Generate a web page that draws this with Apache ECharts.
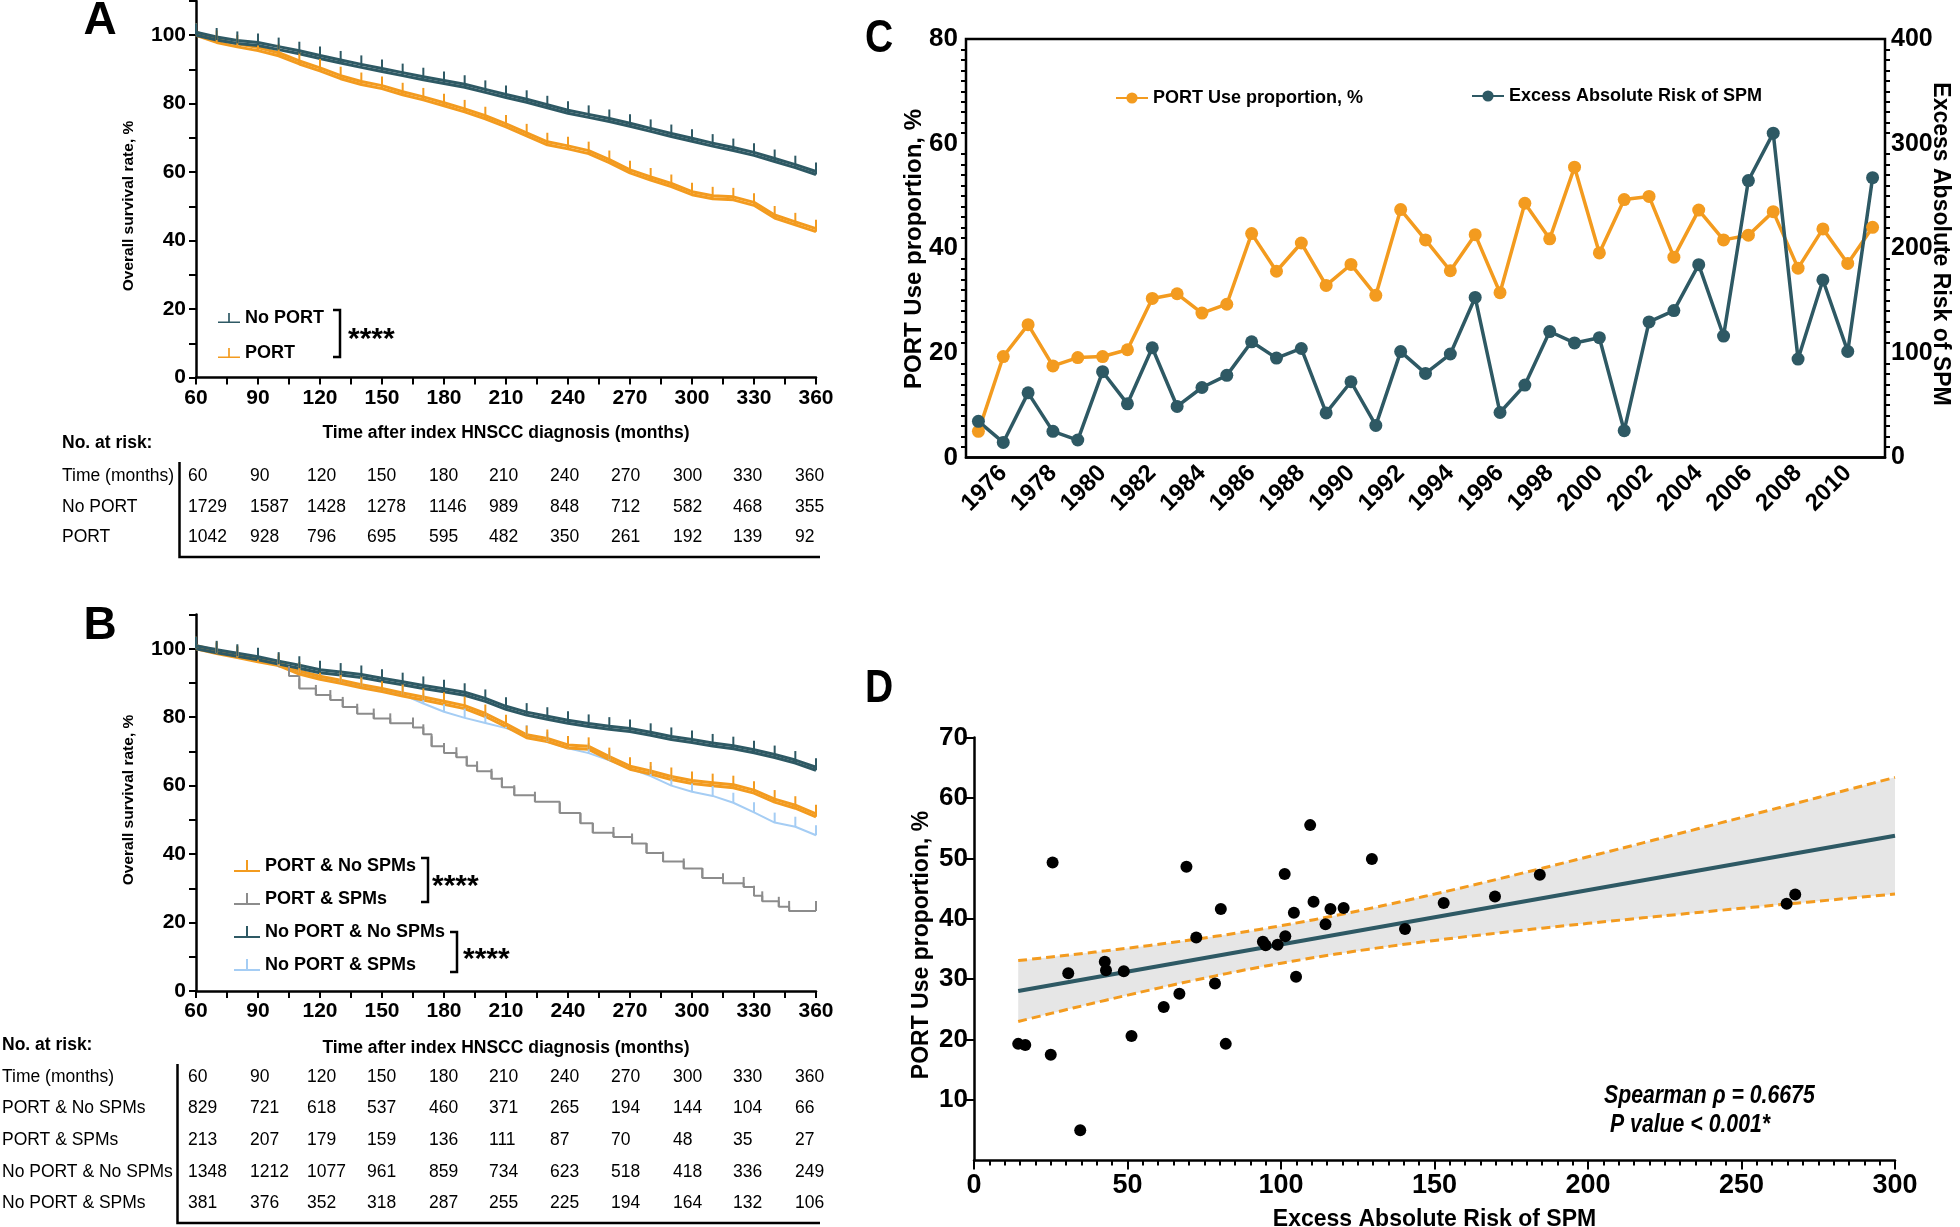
<!DOCTYPE html>
<html>
<head>
<meta charset="utf-8">
<script src="https://cdn.jsdelivr.net/npm/echarts@6/dist/echarts.min.js"></script>
<style>
html, body { margin: 0; padding: 0; background: #fff; }
#main { width: 1960px; height: 1227px; }
</style>
</head>
<body>
<div id="main"></div>
<script>
// ---- KM curves (survival %) ----
var months = [60, 70, 80, 90, 100, 110, 120, 130, 140, 150, 160, 170, 180, 190, 200, 210,
  220, 230, 240, 250, 260, 270, 280, 290, 300, 310, 320, 330, 340, 350, 360];
var aNoPort = [100, 98.6, 97.6, 97.0, 95.8, 94.6, 93.2, 91.9, 90.6, 89.4, 88.2, 87.0, 85.9, 84.8, 83.3, 81.8,
  80.4, 78.8, 77.2, 76.0, 74.8, 73.4, 71.9, 70.4, 69.0, 67.6, 66.3, 64.9, 63.1, 61.3, 59.3];
var aPort = [100, 97.9, 96.6, 95.5, 94.0, 91.6, 89.6, 87.3, 85.6, 84.4, 82.6, 81.1, 79.4, 77.6, 75.6, 73.2,
  70.6, 68.0, 66.8, 65.4, 62.8, 59.8, 57.7, 55.8, 53.4, 52.2, 51.9, 50.3, 46.6, 44.6, 42.6];
var bNoPortNoSpm = [100, 98.8, 97.8, 96.8, 95.5, 94.3, 93.0, 92.3, 91.6, 90.5, 89.5, 88.4, 87.4, 86.4, 84.6, 82.3,
  80.6, 79.4, 78.2, 77.3, 76.5, 75.8, 74.7, 73.5, 72.6, 71.6, 70.8, 69.6, 68.2, 66.6, 64.5];
var bPortNoSpm = [100, 98.6, 97.4, 96.2, 95.1, 92.6, 91.1, 89.9, 88.6, 87.5, 86.2, 85.0, 83.8, 82.5, 80.2, 77.2,
  74.0, 72.9, 71.0, 70.6, 67.6, 64.8, 63.4, 61.8, 60.6, 60.0, 59.4, 57.8, 55.2, 53.4, 50.9];
var bNoPortSpm = [100, 98.8, 97.8, 97.2, 95.0, 93.0, 91.6, 90.2, 89.1, 88.0, 86.6, 84.0, 81.6, 79.8, 78.3, 76.8,
  74.8, 72.8, 70.9, 69.5, 67.4, 65.0, 62.8, 60.0, 58.2, 57.0, 55.0, 52.2, 49.2, 48.0, 45.5];
// PORT & SPMs: step curve, times of the drops and the value after each drop
var bPortSpmT = [60, 70, 80, 90, 100, 105, 110, 118, 125, 131, 138, 146, 154, 165, 170, 174, 180, 186, 191, 196,
  203, 208, 214, 224, 236, 246, 252, 262, 271, 278, 286, 296, 305, 315, 325, 330, 334, 342, 347, 360];
var bPortSpmS = [100, 98.8, 97.6, 96.5, 94.8, 92.0, 88.4, 86.5, 85.0, 83.0, 81.0, 79.6, 78.2, 77.0, 75.0, 71.5, 69.5, 68.3, 65.8, 64.2,
  62.0, 59.5, 57.2, 55.3, 52.0, 49.0, 46.2, 45.0, 43.1, 40.3, 37.8, 35.8, 33.0, 31.5, 30.4, 27.8, 26.2, 24.6, 23.4, 23.4];

// ---- numbers at risk ----
var riskTimes = [60, 90, 120, 150, 180, 210, 240, 270, 300, 330, 360];
var riskANoPort = [1729, 1587, 1428, 1278, 1146, 989, 848, 712, 582, 468, 355];
var riskAPort = [1042, 928, 796, 695, 595, 482, 350, 261, 192, 139, 92];
var riskBPortNoSpm = [829, 721, 618, 537, 460, 371, 265, 194, 144, 104, 66];
var riskBPortSpm = [213, 207, 179, 159, 136, 111, 87, 70, 48, 35, 27];
var riskBNoPortNoSpm = [1348, 1212, 1077, 961, 859, 734, 623, 518, 418, 336, 249];
var riskBNoPortSpm = [381, 376, 352, 318, 287, 255, 225, 194, 164, 132, 106];

// ---- panel C / D ----
var years = [1975, 1976, 1977, 1978, 1979, 1980, 1981, 1982, 1983, 1984, 1985, 1986, 1987, 1988, 1989, 1990,
  1991, 1992, 1993, 1994, 1995, 1996, 1997, 1998, 1999, 2000, 2001, 2002, 2003, 2004, 2005, 2006,
  2007, 2008, 2009, 2010, 2011];
var portUse = [5.0, 19.3, 25.4, 17.5, 19.1, 19.3, 20.6, 30.4, 31.3, 27.6, 29.3, 42.8, 35.6, 41.0, 32.9, 36.9,
  31.0, 47.4, 41.6, 35.7, 42.6, 31.5, 48.6, 41.8, 55.5, 39.1, 49.3, 49.9, 38.3, 47.3, 41.6, 42.5,
  47.0, 36.2, 43.7, 37.1, 44.0];
var excessRisk = [34.6, 14.4, 61.8, 25.0, 16.7, 82.0, 51.3, 104.9, 48.8, 66.9, 78.5, 110.6, 95.0, 104.2, 42.6, 72.4,
  30.7, 101.2, 80.4, 98.9, 153.0, 43.0, 69.2, 120.4, 109.5, 114.5, 25.6, 129.6, 140.4, 184.3, 116.1, 264.7,
  310.0, 94.1, 169.7, 101.4, 267.5];

var cDark = '#2E5964', cOrange = '#F39B1F', cBlue = '#A5CDF4', cGray = '#8C8C8C';
var SANS = '"Liberation Sans", Arial, sans-serif';

var TICK = 'path://M0,0L2,0L2,12L0,12Z';
var LEG_ICON = 'path://M0,10L26,10L26,12L0,12Z M12,0L14,0L14,10L12,10Z';

function zip(xs, ys) {
	return xs.map(function (x, i) { return [x, ys[i]]; });
}

//坐标轴公共样式
function ax(extra) {
	var base = {
		axisLine: { lineStyle: { color: '#000', width: 2.5 } },
		axisTick: { lineStyle: { color: '#000', width: 2 }, length: 7 },
		splitLine: { show: false },
		axisLabel: { color: '#000', fontFamily: SANS, fontWeight: 'bold', fontSize: 21, margin: 10 }
	};
	return echarts.util.merge(base, extra, true);
}

function kmLine(name, idx, xs, ys, color, dense, step) {
	return {
		name: name, type: 'line', xAxisIndex: idx, yAxisIndex: idx,
		data: zip(xs, ys),
		step: step || false,
		symbol: TICK, symbolSize: [2, dense ? 12 : 10], symbolOffset: [0, dense ? -6 : -5],
		showAllSymbol: true,
		itemStyle: { color: color },
		lineStyle: dense ? { color: color, width: 3, shadowColor: color, shadowOffsetY: -3, shadowBlur: 0 }
			: { color: color, width: 2 },
		silent: true
	};
}

// ---- regression for D ----
var n = excessRisk.length;
var mx = 0, my = 0;
for (var i = 0; i < n; i++) { mx += excessRisk[i]; my += portUse[i]; }
mx /= n; my /= n;
var sxx = 0, sxy = 0;
for (var i = 0; i < n; i++) {
	sxx += (excessRisk[i] - mx) * (excessRisk[i] - mx);
	sxy += (excessRisk[i] - mx) * (portUse[i] - my);
}
var slope = sxy / sxx, icpt = my - slope * mx;
var sse = 0;
for (var i = 0; i < n; i++) {
	var r = portUse[i] - (icpt + slope * excessRisk[i]);
	sse += r * r;
}
var sRes = Math.sqrt(sse / (n - 2)), tCrit = 2.03;
var xMin = Math.min.apply(null, excessRisk), xEnd = 300;
var bandX = [], bandHi = [], bandLo = [];
for (var k = 0; k <= 40; k++) {
	var x = xMin + (xEnd - xMin) * k / 40;
	var yh = icpt + slope * x;
	var hw = tCrit * sRes * Math.sqrt(1 / n + (x - mx) * (x - mx) / sxx);
	bandX.push(x); bandHi.push(yh + hw); bandLo.push(yh - hw);
}

// ---- graphic: letters, titles, brackets, tables ----
function txt(x, y, text, size, o) {
	o = o || {};
	return {
		type: 'text', x: x, y: y, rotation: o.rot || 0, scaleX: o.sx || 1, silent: true,
		style: {
			text: text, fill: '#000', fontSize: size,
			fontFamily: SANS, fontWeight: o.weight || 'normal', fontStyle: o.style || 'normal',
			textAlign: o.align || 'left', textVerticalAlign: 'middle'
		}
	};
}
function pline(points) {
	return { type: 'polyline', silent: true, shape: { points: points }, style: { stroke: '#000', lineWidth: 2.5, fill: null } };
}

var graphics = [];
graphics.push(txt(100, 21, 'A', 46, { weight: 'bold', align: 'center' }));
graphics.push(txt(100, 626, 'B', 46, { weight: 'bold', align: 'center' }));
graphics.push(txt(879, 39, 'C', 46, { weight: 'bold', align: 'center', sx: 0.85 }));
graphics.push(txt(879, 689, 'D', 46, { weight: 'bold', align: 'center', sx: 0.85 }));

graphics.push(txt(129, 206, 'Overall survival rate, %', 15.5, { weight: 'bold', align: 'center', rot: Math.PI / 2 }));
graphics.push(txt(129, 800, 'Overall survival rate, %', 15.5, { weight: 'bold', align: 'center', rot: Math.PI / 2 }));
graphics.push(txt(914, 249, 'PORT Use proportion, %', 24, { weight: 'bold', align: 'center', rot: Math.PI / 2 }));
graphics.push(txt(1940, 244, 'Excess Absolute Risk of SPM', 23, { weight: 'bold', align: 'center', rot: -Math.PI / 2 }));
graphics.push(txt(922, 945, 'PORT Use proportion, %', 23, { weight: 'bold', align: 'center', rot: Math.PI / 2 }));

// 显著性括号
graphics.push(pline([[333, 310], [340, 310], [340, 357], [333, 357]]));
graphics.push(txt(348, 340, '****', 30, { weight: 'bold' }));
graphics.push(pline([[421, 858], [428, 858], [428, 902], [421, 902]]));
graphics.push(txt(432, 887, '****', 30, { weight: 'bold' }));
graphics.push(pline([[450, 932], [457, 932], [457, 972], [450, 972]]));
graphics.push(txt(463, 960, '****', 30, { weight: 'bold' }));

graphics.push(txt(1604, 1096, 'Spearman \u03C1 = 0.6675', 25, { weight: 'bold', style: 'italic', sx: 0.85 }));
graphics.push(txt(1610, 1125, 'P value < 0.001*', 25, { weight: 'bold', style: 'italic', sx: 0.85 }));

// 风险表
var colX = [188, 250, 307, 367, 429, 489, 550, 611, 673, 733, 795];
function riskTable(x0, titleY, rowY, labels, rows, lineX, lineTop, lineBottom) {
	graphics.push(txt(x0, titleY, 'No. at risk:', 17.5, { weight: 'bold' }));
	for (var r = 0; r < rows.length; r++) {
		graphics.push(txt(x0, rowY[r], labels[r], 17.5));
		for (var c = 0; c < rows[r].length; c++) {
			graphics.push(txt(colX[c], rowY[r], String(rows[r][c]), 17.5));
		}
	}
	graphics.push(pline([[lineX, lineTop], [lineX, lineBottom], [820, lineBottom]]));
}
riskTable(62, 443, [476, 507, 537], ['Time (months)', 'No PORT', 'PORT'],
	[riskTimes, riskANoPort, riskAPort], 179.5, 462, 557);
riskTable(2, 1045, [1077, 1108, 1140, 1172, 1203],
	['Time (months)', 'PORT & No SPMs', 'PORT & SPMs', 'No PORT & No SPMs', 'No PORT & SPMs'],
	[riskTimes, riskBPortNoSpm, riskBPortSpm, riskBNoPortNoSpm, riskBNoPortSpm], 177.5, 1064, 1223);

// ---- chart ----
var chart = echarts.init(document.getElementById('main'), null, { renderer: 'canvas' });

var kmX = {
	type: 'value', min: 60, max: 360, interval: 15,
	axisLabel: { formatter: function (v) { return v % 30 === 0 ? v : ''; } },
	name: 'Time after index HNSCC diagnosis (months)', nameLocation: 'middle',
	nameTextStyle: { color: '#000', fontFamily: SANS, fontWeight: 'bold', fontSize: 17.5 }
};
var kmY = {
	type: 'value', min: 0, max: 110, interval: 10,
	axisLabel: { formatter: function (v) { return (v % 20 === 0 && v <= 100) ? v : ''; } }
};
var legendText = { color: '#000', fontFamily: SANS, fontWeight: 'bold', fontSize: 18 };

var option = {
	animation: false,
	backgroundColor: '#fff',
	grid: [
		{ left: 196, top: 1, width: 620, height: 376.5, outerBoundsMode: 'none' },
		{ left: 196, top: 614.5, width: 620, height: 376.5, outerBoundsMode: 'none' },
		{ left: 966, top: 39, width: 919, height: 418.5, show: true, borderColor: '#000', borderWidth: 2.5, outerBoundsMode: 'none' },
		{ left: 974, top: 737.5, width: 921, height: 423, outerBoundsMode: 'none' }
	],
	xAxis: [
		ax(echarts.util.merge({ gridIndex: 0, nameGap: 47 }, kmX)),
		ax(echarts.util.merge({ gridIndex: 1, nameGap: 48 }, kmX)),
		ax({
			gridIndex: 2, type: 'category', data: years.map(String), boundaryGap: true,
			axisTick: { alignWithLabel: true, length: 9, interval: function (i, v) { return +v % 2 === 0; } },
			axisLabel: { rotate: 45, fontSize: 24, margin: 12, interval: function (i, v) { return +v % 2 === 0; } }
		}),
		ax({
			gridIndex: 3, type: 'value', min: 0, max: 300, interval: 50,
			axisTick: { length: 9 },
			minorTick: { show: true, splitNumber: 10, length: 5, lineStyle: { color: '#000', width: 2 } },
			axisLabel: { fontSize: 27, margin: 12 },
			name: 'Excess Absolute Risk of SPM', nameLocation: 'middle', nameGap: 48,
			nameTextStyle: { color: '#000', fontFamily: SANS, fontWeight: 'bold', fontSize: 23 }
		})
	],
	yAxis: [
		ax(echarts.util.merge({ gridIndex: 0 }, kmY)),
		ax(echarts.util.merge({ gridIndex: 1 }, kmY)),
		ax({
			gridIndex: 2, type: 'value', position: 'left', min: 0, max: 80, interval: 20,
			axisTick: { length: 9 },
			minorTick: { show: true, splitNumber: 10, length: 5, lineStyle: { color: '#000', width: 2 } },
			axisLabel: { fontSize: 26, margin: 8 }
		}),
		ax({
			gridIndex: 2, type: 'value', position: 'right', min: 0, max: 400, interval: 100,
			axisTick: { length: 9 },
			minorTick: { show: true, splitNumber: 10, length: 5, lineStyle: { color: '#000', width: 2 } },
			axisLabel: { fontSize: 25, margin: 6 }
		}),
		ax({
			gridIndex: 3, type: 'value', min: 0, max: 70, interval: 10,
			axisTick: { length: 8 },
			axisLabel: { fontSize: 26, margin: 6, showMinLabel: false }
		})
	],
	legend: [
		{
			left: 213, top: 304, orient: 'vertical', itemGap: 17, itemWidth: 22, itemHeight: 12,
			icon: LEG_ICON, selectedMode: false, data: ['No PORT', 'PORT'], textStyle: legendText
		},
		{
			left: 229, top: 852, orient: 'vertical', itemGap: 15, itemWidth: 26, itemHeight: 12,
			icon: LEG_ICON, selectedMode: false,
			data: ['PORT & No SPMs', 'PORT & SPMs', 'No PORT & No SPMs', 'No PORT & SPMs'], textStyle: legendText
		},
		{
			left: 1110, top: 84, itemWidth: 32, itemHeight: 14, selectedMode: false,
			data: ['PORT Use proportion, %'], textStyle: legendText
		},
		{
			left: 1466, top: 82, itemWidth: 32, itemHeight: 14, selectedMode: false,
			data: ['Excess Absolute Risk of SPM'], textStyle: legendText
		}
	],
	graphic: { elements: graphics },
	series: [
		//A
		kmLine('PORT', 0, months, aPort, cOrange, true),
		kmLine('No PORT', 0, months, aNoPort, cDark, true),
		//B
		kmLine('PORT & SPMs', 1, bPortSpmT, bPortSpmS, cGray, false, 'end'),
		kmLine('No PORT & SPMs', 1, months, bNoPortSpm, cBlue, false),
		kmLine('PORT & No SPMs', 1, months, bPortNoSpm, cOrange, true),
		kmLine('No PORT & No SPMs', 1, months, bNoPortNoSpm, cDark, true),
		//C
		{
			name: 'PORT Use proportion, %', type: 'line', xAxisIndex: 2, yAxisIndex: 2,
			data: portUse, symbol: 'circle', symbolSize: 13, showAllSymbol: true,
			itemStyle: { color: cOrange }, lineStyle: { color: cOrange, width: 3.5 }, silent: true
		},
		{
			name: 'Excess Absolute Risk of SPM', type: 'line', xAxisIndex: 2, yAxisIndex: 3,
			data: excessRisk, symbol: 'circle', symbolSize: 13, showAllSymbol: true,
			itemStyle: { color: cDark }, lineStyle: { color: cDark, width: 3.5 }, silent: true
		},
		//D
		{
			name: 'band', type: 'custom', xAxisIndex: 3, yAxisIndex: 4, silent: true, z: 1,
			data: [[bandX[0], bandLo[0]]],
			renderItem: function (params, api) {
				var pts = [];
				for (var j = 0; j < bandX.length; j++) pts.push(api.coord([bandX[j], bandHi[j]]));
				for (var j = bandX.length - 1; j >= 0; j--) pts.push(api.coord([bandX[j], bandLo[j]]));
				return { type: 'polygon', shape: { points: pts }, style: { fill: '#E6E6E6' } };
			}
		},
		{
			name: 'fit', type: 'line', xAxisIndex: 3, yAxisIndex: 4, silent: true, z: 3,
			data: [[xMin, icpt + slope * xMin], [xEnd, icpt + slope * xEnd]],
			symbol: 'none', lineStyle: { color: cDark, width: 4 }
		},
		{
			name: 'upper', type: 'line', xAxisIndex: 3, yAxisIndex: 4, silent: true, z: 3,
			data: zip(bandX, bandHi), symbol: 'none', smooth: true,
			lineStyle: { color: cOrange, width: 3, type: [9, 5] }
		},
		{
			name: 'lower', type: 'line', xAxisIndex: 3, yAxisIndex: 4, silent: true, z: 3,
			data: zip(bandX, bandLo), symbol: 'none', smooth: true,
			lineStyle: { color: cOrange, width: 3, type: [9, 5] }
		},
		{
			name: 'points', type: 'scatter', xAxisIndex: 3, yAxisIndex: 4, silent: true, z: 4,
			data: zip(excessRisk, portUse), symbolSize: 12, clip: true,
			itemStyle: { color: '#000', opacity: 1 }
		}
	]
};
chart.setOption(option);
</script>
</body>
</html>
